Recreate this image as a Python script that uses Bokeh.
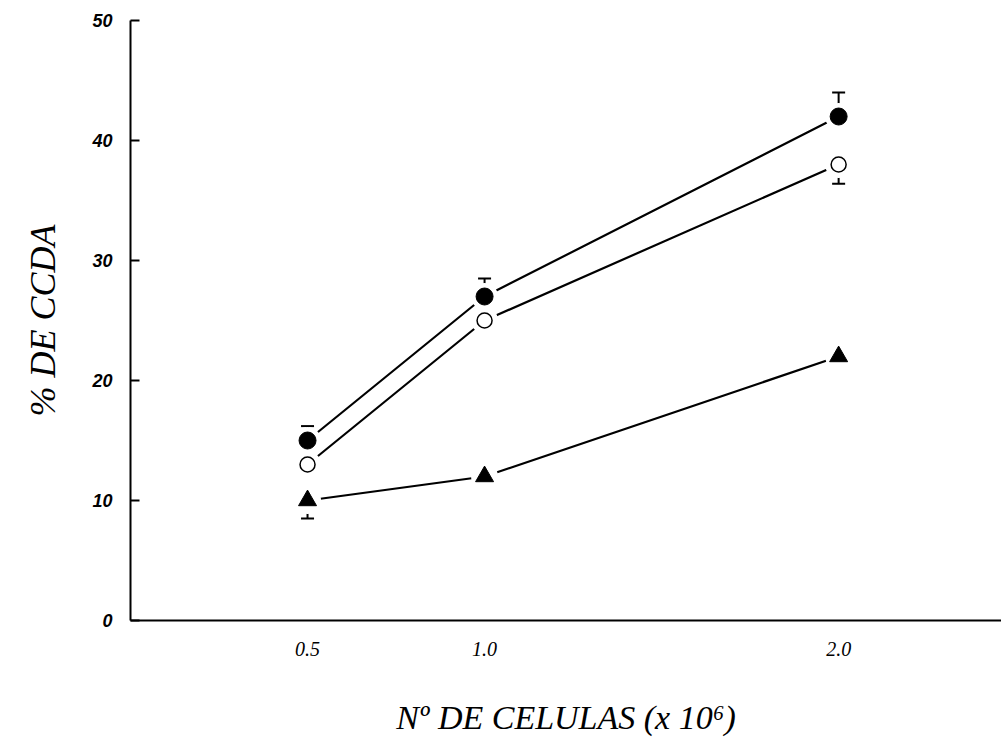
from bokeh.plotting import figure
from bokeh.models import ColumnDataSource, Whisker, TeeHead, FixedTicker, Range1d
from bokeh.embed import file_html
from bokeh.resources import INLINE

# ---- data ----
cells = [0.5, 1.0, 2.0]
x_tick_labels = {0.5: "0.5", 1: "1.0", 2: "2.0"}
y_ticks = [0, 10, 20, 30, 40, 50]

filled_vals = [15, 27, 42]
filled_err = [1.2, 1.5, 2.0]      # drawn upward

open_vals = [13, 25, 38]
open_err = [0.0, 0.8, 1.6]        # drawn downward

tri_vals = [10, 12, 22]
tri_err = [1.5, 0.0, 0.0]         # drawn downward

p = figure(width=1001, height=752, output_backend="svg", toolbar_location=None,
           x_range=Range1d(0, 2.46), y_range=Range1d(0, 50),
           min_border_left=130, min_border_right=0, min_border_top=20,
           min_border_bottom=132)
p.outline_line_color = None
p.grid.grid_line_color = None
p.background_fill_color = "white"
p.border_fill_color = "white"

# axes
p.yaxis.ticker = FixedTicker(ticks=y_ticks)
p.yaxis.major_tick_in = 9
p.yaxis.major_tick_out = 0
p.yaxis.minor_tick_line_color = None
p.yaxis.axis_line_width = 2
p.yaxis.axis_line_color = "black"
p.yaxis.major_tick_line_width = 2
p.yaxis.major_tick_line_color = "black"
p.yaxis.major_label_text_font = "Liberation Sans"
p.yaxis.major_label_text_font_style = "bold italic"
p.yaxis.major_label_text_font_size = "18px"
p.yaxis.major_label_text_color = "black"
p.yaxis.major_label_standoff = 18
p.yaxis.axis_label = "% DE CCDA"
p.yaxis.axis_label_text_font = "Liberation Serif"
p.yaxis.axis_label_text_font_style = "italic"
p.yaxis.axis_label_text_font_size = "36px"
p.yaxis.axis_label_text_color = "black"
p.yaxis.axis_label_standoff = 26

p.xaxis.ticker = FixedTicker(ticks=cells)
p.xaxis.major_label_overrides = x_tick_labels
p.xaxis.major_tick_line_color = None
p.xaxis.minor_tick_line_color = None
p.xaxis.axis_line_width = 2
p.xaxis.axis_line_color = "black"
p.xaxis.major_label_text_font = "Liberation Serif"
p.xaxis.major_label_text_font_style = "italic"
p.xaxis.major_label_text_font_size = "20px"
p.xaxis.major_label_text_color = "black"
p.xaxis.major_label_standoff = 15
p.xaxis.axis_label = "Nº DE CELULAS (x 10⁶)"
p.xaxis.axis_label_text_font = "Liberation Serif"
p.xaxis.axis_label_text_font_style = "italic"
p.xaxis.axis_label_text_font_size = "34px"
p.xaxis.axis_label_text_color = "black"
p.xaxis.axis_label_standoff = 40

src = ColumnDataSource(dict(
    x=cells,
    f=filled_vals, f_up=[v + e for v, e in zip(filled_vals, filled_err)],
    o=open_vals, o_lo=[v - e for v, e in zip(open_vals, open_err)],
    t=tri_vals, t_lo=[v - e for v, e in zip(tri_vals, tri_err)],
))

# error bars (one-sided)
p.add_layout(Whisker(source=src, base="x", lower="f", upper="f_up", level="underlay",
                     line_width=2, lower_head=None,
                     upper_head=TeeHead(size=13, line_width=2)))
p.add_layout(Whisker(source=src, base="x", lower="o_lo", upper="o", level="underlay",
                     line_width=2, upper_head=None,
                     lower_head=TeeHead(size=13, line_width=2)))
p.add_layout(Whisker(source=src, base="x", lower="t_lo", upper="t", level="underlay",
                     line_width=2, upper_head=None,
                     lower_head=TeeHead(size=13, line_width=2)))

# lines
for col in ["f", "o", "t"]:
    p.line("x", col, source=src, line_color="black", line_width=2.2)

# white halos to create gaps around markers
for col in ["f", "o", "t"]:
    p.scatter("x", col, source=src, size=27, fill_color="white", line_color=None)

p.scatter("x", "f", source=src, marker="circle", size=17, fill_color="black",
          line_color="black")
p.scatter("x", "o", source=src, marker="circle", size=15, fill_color="white",
          line_color="black", line_width=1.5)
p.scatter("x", "t", source=src, marker="triangle", size=18, fill_color="black",
          line_color="black")

open("out.html", "w").write(file_html(p, INLINE))
